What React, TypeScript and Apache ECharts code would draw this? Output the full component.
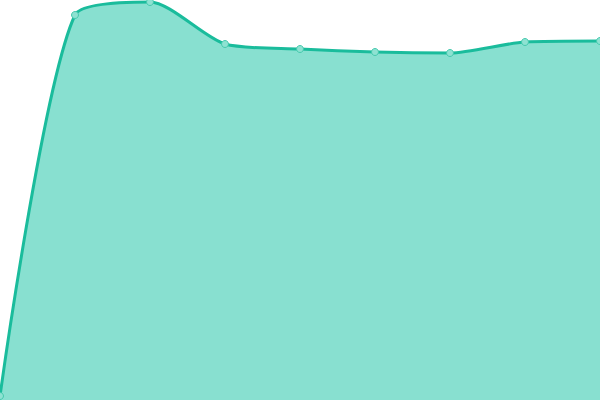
import * as echarts from "echarts";
import React, { useEffect, useRef } from "react";

const categories = ["1", "2", "3", "4", "5", "6", "7", "8", "9"];
const values = [4, 385, 398, 356, 351, 348, 347, 358, 359];

export default function App() {
	const ref = useRef<HTMLDivElement>(null);

	useEffect(() => {
		const chart = echarts.init(ref.current, null, { renderer: "svg" });
		chart.setOption({
			animation: false,
			grid: { left: 0, right: 0, top: 0, bottom: 0 },
			xAxis: {
				type: "category",
				data: categories,
				boundaryGap: false,
				show: false,
			},
			yAxis: {
				type: "value",
				min: 0,
				max: 400,
				show: false,
			},
			series: [
				{
					type: "line",
					data: values,
					smooth: 0.25,
					symbol: "circle",
					symbolSize: 7,
					lineStyle: { color: "#1abc9c", width: 3 },
					itemStyle: { color: "#8ee2d2", borderColor: "#45c9ad", borderWidth: 1 },
					areaStyle: { color: "#88e0d0", opacity: 1 },
				},
			],
		});
		return () => chart.dispose();
	}, []);

	return (
		<div
			ref={ref}
			style={{ position: "fixed", left: 0, top: 0, width: 600, height: 400 }}
		/>
	);
}
